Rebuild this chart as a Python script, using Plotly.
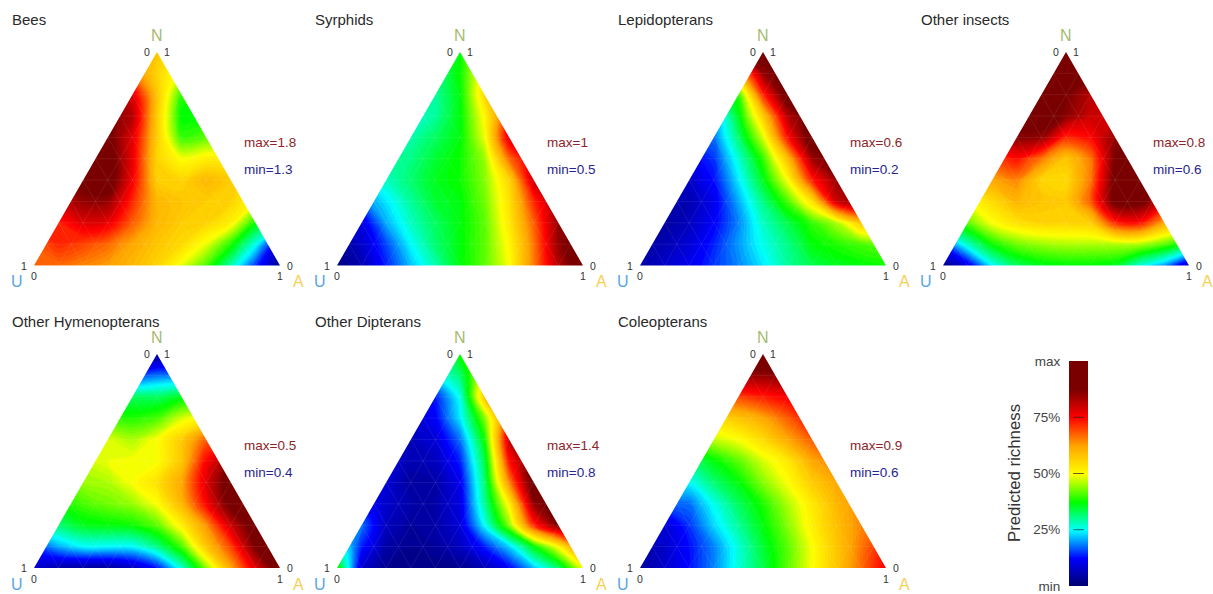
import plotly.graph_objects as go

W, H = 1213, 594
N = None

# grid of the read values: x along the base, height from base to apex
GRID_X = [0, .1, .2, .3, .4, .5, .6, .7, .8, .9, 1]
GRID_H = [1, .9, .8, .7, .6, .5, .4, .3, .2, .1, 0]

# values are % of the colour scale, rows go from apex (top) to base
BEES = [
    [N, N, N, N, 60, 58, 50, N, N, N, N],
    [N, N, N, N, 66, 56, 48, N, N, N, N],
    [N, N, N, 85, 78, 58, 40, 38, N, N, N],
    [N, N, N, 88, 82, 57, 37, 38, N, N, N],
    [N, N, 90, 90, 78, 57, 40, 42, 45, N, N],
    [N, N, 90, 92, 77, 56, 50, 52, 52, N, N],
    [N, N, 90, 92, 76, 57, 56, 60, 57, 52, N],
    [N, 80, 85, 85, 72, 60, 58, 57, 56, 50, N],
    [N, 73, 78, 77, 68, 60, 57, 56, 52, 38, 30],
    [68, 72, 70, 67, 62, 58, 55, 49, 39, 26, 8],
    [68, 67, 65, 63, 60, 56, 49, 41, 29, 15, 3],
]
SYRPHIDS = [
    [N, N, N, N, 34, 37, 50, N, N, N, N],
    [N, N, N, N, 31, 38, 52, N, N, N, N],
    [N, N, N, 28, 30, 37, 55, 66, N, N, N],
    [N, N, N, 27, 30, 37, 51, 72, N, N, N],
    [N, N, N, 29, 33, 37, 49, 78, N, N, N],
    [N, N, 29, 31, 35, 38, 45, 67, 80, N, N],
    [N, N, 28, 32, 36, 38, 44, 56, 80, N, N],
    [N, N, 24, 30, 35, 37, 43, 54, 72, 85, N],
    [N, 10, 21, 28, 33, 37, 42, 53, 68, 85, N],
    [3, 8, 16, 25, 32, 37, 42, 51, 66, 85, 92],
    [2, 6, 14, 22, 29, 37, 42, 50, 66, 82, 93],
]
LEPIDOPTERANS = [
    [N, N, N, N, 85, 92, 92, N, N, N, N],
    [N, N, N, N, 60, 85, 92, N, N, N, N],
    [N, N, N, 30, 40, 72, 92, 92, N, N, N],
    [N, N, N, 20, 36, 57, 82, 92, N, N, N],
    [N, N, N, 18, 32, 48, 74, 92, N, N, N],
    [N, N, 11, 15, 27, 40, 59, 84, 90, N, N],
    [N, N, 8, 13, 24, 36, 50, 73, 85, N, N],
    [N, N, 6, 11, 21, 31, 41, 54, 80, 85, N],
    [N, 4, 7, 12, 19, 28, 34, 40, 46, 58, N],
    [4, 6, 9, 14, 20, 26, 31, 37, 39, 41, 42],
    [5, 8, 11, 15, 19, 24, 30, 34, 36, 37, 38],
]
OTHER_INSECTS = [
    [N, N, N, N, 92, 92, 92, N, N, N, N],
    [N, N, N, N, 92, 92, 90, N, N, N, N],
    [N, N, N, 92, 92, 88, 82, 82, N, N, N],
    [N, N, N, 90, 92, 86, 80, 80, N, N, N],
    [N, N, N, 86, 85, 72, 75, 85, N, N, N],
    [N, N, 70, 74, 66, 58, 66, 88, 92, N, N],
    [N, N, 62, 65, 56, 55, 66, 90, 92, N, N],
    [N, 50, 55, 60, 58, 57, 68, 90, 90, 78, N],
    [N, 42, 50, 54, 56, 56, 57, 72, 74, 62, N],
    [15, 28, 38, 43, 45, 46, 46, 46, 46, 42, 35],
    [2, 10, 25, 33, 36, 37, 37, 36, 27, 20, 6],
]
OTHER_HYMENOPTERANS = [
    [N, N, N, N, 3, 3, 3, N, N, N, N],
    [N, N, N, N, 16, 18, 20, N, N, N, N],
    [N, N, N, 32, 33, 33, 36, 37, N, N, N],
    [N, N, N, 40, 39, 41, 48, 52, N, N, N],
    [N, N, N, 48, 46, 50, 57, 68, N, N, N],
    [N, N, 47, 49, 50, 50, 58, 75, 86, N, N],
    [N, N, 45, 46, 50, 54, 62, 78, 92, N, N],
    [N, 38, 41, 43, 45, 50, 60, 75, 90, 92, N],
    [N, 32, 36, 37, 38, 42, 52, 64, 80, 92, N],
    [15, 21, 25, 25, 25, 31, 41, 58, 70, 88, 92],
    [8, 5, 4, 4, 7, 13, 27, 44, 62, 78, 92],
]
OTHER_DIPTERANS = [
    [N, N, N, N, 30, 38, 45, N, N, N, N],
    [N, N, N, N, 24, 32, 50, N, N, N, N],
    [N, N, N, 10, 14, 26, 58, 66, N, N, N],
    [N, N, N, 8, 12, 24, 44, 72, N, N, N],
    [N, N, N, 7, 9, 18, 38, 80, N, N, N],
    [N, N, 10, 6, 7, 14, 34, 74, 90, N, N],
    [N, N, 9, 4, 5, 11, 32, 65, 92, N, N],
    [N, N, 8, 5, 5, 10, 30, 52, 85, 92, N],
    [N, 18, 7, 4, 5, 9, 25, 44, 72, 87, N],
    [30, 14, 5, 3, 4, 7, 14, 23, 37, 51, 70],
    [40, 8, 3, 2, 2, 3, 6, 12, 22, 32, 50],
]
COLEOPTERANS = [
    [N, N, N, N, 92, 95, 92, N, N, N, N],
    [N, N, N, N, 84, 85, 86, N, N, N, N],
    [N, N, N, 68, 70, 73, 76, 78, N, N, N],
    [N, N, N, 55, 58, 62, 68, 75, N, N, N],
    [N, N, N, 47, 50, 55, 62, 68, N, N, N],
    [N, N, 32, 37, 42, 48, 53, 62, 66, N, N],
    [N, N, 25, 32, 37, 44, 50, 57, 62, N, N],
    [N, N, 18, 26, 33, 39, 46, 53, 60, 65, N],
    [N, 9, 15, 23, 30, 37, 44, 52, 59, 65, N],
    [5, 8, 13, 19, 27, 35, 42, 50, 58, 66, 74],
    [4, 8, 13, 19, 27, 34, 42, 50, 58, 67, 76],
]

TITLES = ['Bees', 'Syrphids', 'Lepidopterans', 'Other insects',
          'Other Hymenopterans', 'Other Dipterans', 'Coleopterans']
PANELS = [BEES, SYRPHIDS, LEPIDOPTERANS, OTHER_INSECTS,
          OTHER_HYMENOPTERANS, OTHER_DIPTERANS, COLEOPTERANS]
MAX_LABELS = ['max=1.8', 'max=1', 'max=0.6', 'max=0.8', 'max=0.5', 'max=1.4', 'max=0.9']
MIN_LABELS = ['min=1.3', 'min=0.5', 'min=0.2', 'min=0.6', 'min=0.4', 'min=0.8', 'min=0.6']

SCALE_LEVELS = [0, 25, 50, 75, 100]
SCALE_TEXT = ['min', '25%', '50%', '75%', 'max']
SCALE_MARKS = [25, 50, 75]

COLORS = [[0, '#00006e'], [.125, '#0000ff'], [.25, '#00ffff'], [.375, '#00ff00'],
          [.5, '#ffff00'], [.625, '#ffa500'], [.75, '#ff0000'], [.875, '#7a0000'], [1, '#7a0000']]

# pixel boxes of the triangles
LEFTS = [34, 337, 640, 943, 34, 337, 640]
BASES = [265.5, 265.5, 265.5, 265.5, 568, 568, 568]
APEXES = [52, 52, 52, 52, 354, 354, 354]
SIDE = 246
PAD = .03

FONT = 'Liberation Sans'
fig = go.Figure()


def label(x, y, text, size, color, anchor='center', angle=0):
    fig.add_annotation(x=x / W, y=1 - y / H, xref='paper', yref='paper', text=text,
                       showarrow=False, xanchor=anchor, yanchor='middle', textangle=angle,
                       font=dict(family=FONT, size=size, color=color))


def lattice_lines():
    xs, ys = [], []
    for i in range(1, 10):
        t = i / 10
        # one family of lines per side of the triangle
        xs += [t / 2, 1 - t / 2, None, t, (1 + t) / 2, None, t, t / 2, None]
        ys += [t, t, None, 0, 1 - t, None, 0, t, None]
    return xs, ys


line_x, line_y = lattice_lines()

for i, z in enumerate(PANELS):
    n = i + 1
    name = '' if n == 1 else str(n)
    L, B, T = LEFTS[i], BASES[i], APEXES[i]
    fig.add_trace(go.Contour(x=GRID_X, y=GRID_H[::-1], z=z[::-1], zmin=0, zmax=100,
                             connectgaps=True, colorscale=COLORS, showscale=False,
                             contours=dict(start=0, end=100, size=1, coloring='fill'),
                             line=dict(width=0, smoothing=1.0),
                             xaxis='x' + name, yaxis='y' + name))
    fig.add_trace(go.Scatter(x=line_x, y=line_y, mode='lines', showlegend=False,
                             line=dict(color='rgba(255,255,255,0.08)', width=1),
                             xaxis='x' + name, yaxis='y' + name))
    axis = dict(range=[-PAD, 1 + PAD], visible=False, fixedrange=True)
    pad_y = PAD * (B - T)
    fig.update_layout({
        'xaxis' + name: dict(axis, anchor='y' + name,
                             domain=[(L - PAD * SIDE) / W, (L + SIDE + PAD * SIDE) / W]),
        'yaxis' + name: dict(axis, anchor='x' + name,
                             domain=[1 - (B + pad_y) / H, 1 - (T - pad_y) / H]),
    })
    # white sheet with a triangular hole
    fig.add_shape(type='path', path='M -1 -1 L 2 -1 L 2 2 L -1 2 Z M 0 0 L 0.5 1 L 1 0 Z',
                  xref='x' + name, yref='y' + name, fillcolor='white',
                  line=dict(width=0), layer='above')

    label(L - 24, B - 246.5, TITLES[i], 15, '#2a2a2a', 'left')
    label(L + 123, T - 17, 'N', 16, '#a4bb70')
    label(L + 113, T, '0', 10.5, '#333333')
    label(L + 133, T, '1', 10.5, '#333333')
    label(L - 10, B, '1', 10.5, '#333333')
    label(L, B + 10.5, '0', 10.5, '#333333')
    label(L - 17, B + 16, 'U', 16, '#5aa5e6')
    label(L + SIDE + 10, B, '0', 10.5, '#333333')
    label(L + SIDE, B + 10.5, '1', 10.5, '#333333')
    label(L + SIDE + 18, B + 16, 'A', 16, '#f6cf55')
    label(L + 208, B - 122.5, MAX_LABELS[i], 13.5, '#8f2428', 'left')
    label(L + 208, B - 96, MIN_LABELS[i], 13.5, '#25258f', 'left')

# colour scale at the lower right
fig.add_trace(go.Heatmap(x=[0, 1], y=SCALE_LEVELS, z=[[v, v] for v in SCALE_LEVELS],
                         zmin=0, zmax=100, zsmooth='best', colorscale=COLORS,
                         showscale=False, xaxis='x8', yaxis='y8'))
mark_x, mark_y = [], []
for v in SCALE_MARKS:
    mark_x += [.22, .78, None]
    mark_y += [v, v, None]
fig.add_trace(go.Scatter(x=mark_x, y=mark_y, mode='lines', showlegend=False,
                         line=dict(color='rgba(30,30,30,0.7)', width=1),
                         xaxis='x8', yaxis='y8'))
fig.update_layout(
    xaxis8=dict(domain=[1069 / W, 1088 / W], range=[0, 1], visible=False, anchor='y8'),
    yaxis8=dict(domain=[1 - 586 / H, 1 - 361 / H], range=[0, 100], anchor='x8',
                tickvals=SCALE_LEVELS, ticktext=SCALE_TEXT, ticks='outside', ticklen=5,
                tickcolor='white', showgrid=False, zeroline=False, showline=False,
                automargin=False, tickfont=dict(family=FONT, size=13.5, color='#444444')),
)
label(1014, 473, 'Predicted richness', 16.8, '#333333', angle=-90)

fig.update_layout(width=W, height=H, margin=dict(l=0, r=0, t=0, b=0),
                  paper_bgcolor='white', plot_bgcolor='white', showlegend=False)

# drop the page margin so the figure sits at the window corner
fig.write_html("out.html", post_script="document.body.style.margin='0';",
               config=dict(displayModeBar=False))
